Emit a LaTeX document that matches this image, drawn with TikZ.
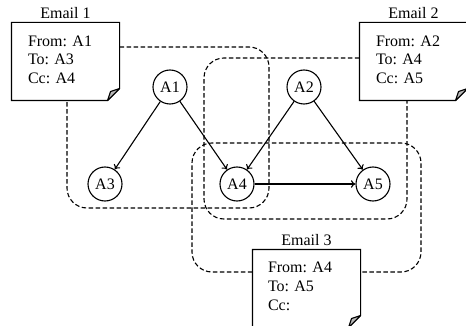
\documentclass[tikz,border=0pt]{standalone}
\usepackage{fontspec}
\setmainfont{Liberation Serif}
\usetikzlibrary{arrows.meta,positioning}

\begin{document}
\begin{tikzpicture}[
        x=1pt, y=-1pt,
        font=\fontsize{16}{18.8}\selectfont,
        agent/.style={draw, circle, minimum size=34pt, inner sep=0pt},
        mail/.style={rectangle, minimum width=107pt, minimum height=77pt, inner sep=0pt},
        mailtext/.style={anchor=north west, align=left, inner sep=0pt},
        group/.style={dash pattern=on 4.5pt off 2.5pt, rounded corners=20pt},
        fold/.style={fill=gray!55, line join=round},
        >={To[length=4.5pt,width=7.5pt]},
        line width=1.1pt
    ]
    \useasboundingbox (0,0) rectangle (466,326);

    % mails
    \node[mail] (m1) at (65.5,61.5) {};
    \node[mail] (m2) at (413.5,61.5) {};
    \node[mail] (m3) at (306.5,288.5) {};
    \foreach \m in {m1,m2,m3} {
        \draw (\m.north west) -- (\m.north east) -- ([yshift=12pt]\m.south east)
            -- ([xshift=-12pt]\m.south east) -- (\m.south west) -- cycle;
        \draw[fold] ([xshift=-12pt]\m.south east) -- ([xshift=-9pt,yshift=9pt]\m.south east)
            -- ([yshift=12pt]\m.south east) -- cycle;
    }
    \node[above=3pt of m1, inner sep=0pt] (l1) {Email 1};
    \node[above=3pt of m2, inner sep=0pt] (l2) {Email 2};
    \node[above=3pt of m3, inner sep=0pt] (l3) {Email 3};
    \node[mailtext] (t1) at ([xshift=16pt,yshift=-12.5pt]m1.north west) {From: A1\\To: A3\\Cc: A4};
    \node[mailtext] (t2) at ([xshift=16pt,yshift=-12.5pt]m2.north west) {From: A2\\To: A4\\Cc: A5};
    \node[mailtext] (t3) at ([xshift=15pt,yshift=-12pt]m3.north west) {From: A4\\To: A5\\Cc:};

    % agents
    \node[agent] (a1) at (170,87) {A1};
    \node[agent] (a2) at (304,87) {A2};
    \node[agent] (a3) at (105,184) {A3};
    \node[agent] (a4) at (237,184) {A4};
    \node[agent] (a5) at (373,184) {A5};

    \draw[->] (a1) -- (a3);
    \draw[->] (a1) -- (a4);
    \draw[->] (a2) -- (a4);
    \draw[->] (a2) -- (a5);
    \draw[->] (a4) -- (a5);

    % who is involved in each mail
    \draw[group] ([yshift=14.5pt]m1.east) -| (269,208) -| ([xshift=1.5pt]m1.south);
    \draw[group] ([yshift=3.5pt]m2.west) -| (204,219) -| ([xshift=-6.5pt]m2.south);
    \draw[group] ([yshift=16.5pt]m3.west) -| (192,143) -| (421,272) -- ([yshift=16.5pt]m3.east);
\end{tikzpicture}
\end{document}
